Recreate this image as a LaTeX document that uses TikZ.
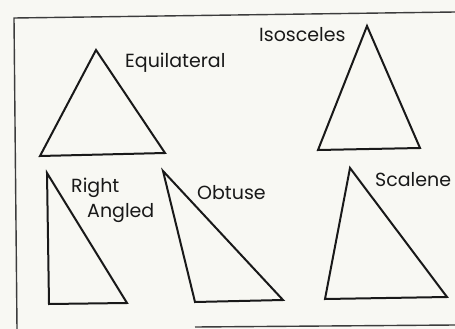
\documentclass[tikz,border=0pt]{standalone}
\usepackage{fontspec}
\setmainfont{Poppins}
\definecolor{paper}{RGB}{248,248,243}
\definecolor{ink}{RGB}{25,25,25}
\tikzset{
  tri/.style={draw=ink, line width=2pt, line join=miter},
  frame/.style={draw=ink!85, line width=1.4pt},
  lbl/.style={font=\fontsize{19}{21}\selectfont, text=ink, inner sep=0pt, anchor=west}
}
\begin{document}
\begin{tikzpicture}[x=1pt,y=-1pt]
\fill[paper] (0,0) rectangle (455,329);
\useasboundingbox (0,0) rectangle (455,329);
% frame
\coordinate (f1) at (455,12);
\coordinate (f2) at (14,18);
\coordinate (f3) at (17,329);
\coordinate (f4) at (195,327);
\coordinate (f5) at (455,325);
\draw[frame] (f1) -- (f2) -- (f3);
\draw[frame] (f4) -- (f5);
% Equilateral
\draw[tri] (96,50) -- (40,156) -- (165,153) -- cycle;
\node[lbl] (eq) at (125,63) {Equilateral};
% Isosceles
\draw[tri] (367,26) -- (318,150) -- (420,148) -- cycle;
\node[lbl] (is) at (259,35) {Isosceles};
% Right angled
\draw[tri] (47,173) -- (49,304) -- (127,303) -- cycle;
\node[lbl] (ra1) at (71,188) {Right};
\node[lbl] (ra2) at (87,213) {Angled};
% Obtuse
\draw[tri] (163,171) -- (195,302) -- (283,300) -- cycle;
\node[lbl] (ob) at (197,193) {Obtuse};
% Scalene
\draw[tri] (350,168) -- (325,299) -- (447,297) -- cycle;
\node[lbl] (sc) at (375,180) {Scalene};
\end{tikzpicture}
\end{document}
